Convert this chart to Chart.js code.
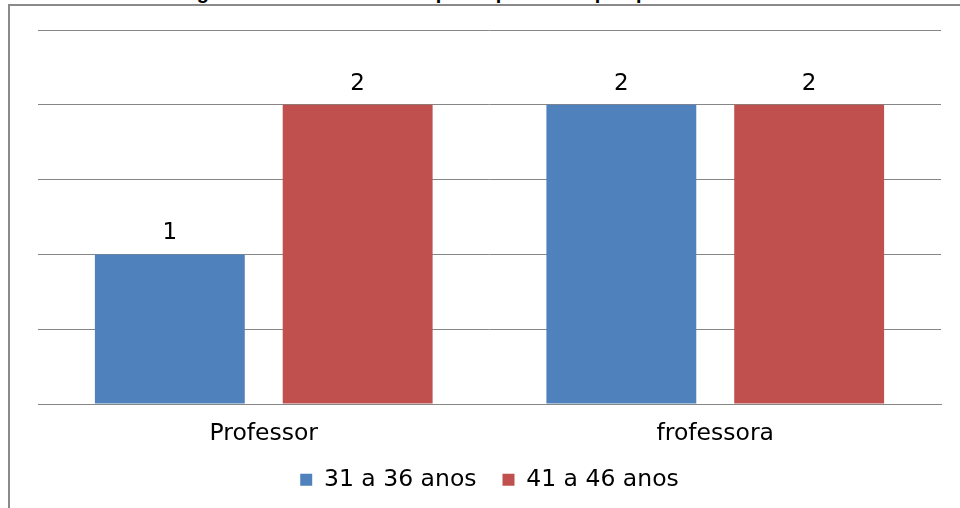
<!DOCTYPE html>
<html>
<head>
<meta charset="utf-8">
<script src="https://cdn.jsdelivr.net/npm/chart.js@4.4.1/dist/chart.umd.min.js"></script>
<style>
  html, body { margin: 0; padding: 0; background: #fff; overflow: hidden; }
  #wrap { position: relative; width: 960px; height: 508px; overflow: hidden; }
  #chart { position: absolute; left: 0; top: 0; }
  #frame { position: absolute; left: 8px; top: 4px; width: 1000px; height: 600px;
           border: 2px solid #8a8a8a; box-sizing: border-box; pointer-events: none; }
  #title { position: absolute; left: 179px; top: -19px; white-space: nowrap;
           font: bold 20px "Liberation Sans", Arial, sans-serif; color: #000; }
</style>
</head>
<body>
<div id="wrap">
  <div id="title">Figura 1 – Faixa etária dos participantes da pesquisa</div>
  <canvas id="chart" width="960" height="508"></canvas>
  <div id="frame"></div>
</div>
<script>
// Categories, series and value scale
const categories = ['Professor', 'frofessora'];
const seriesNames = ['31 a 36 anos', '41 a 46 anos'];
const age31to36 = [1, 2];
const age41to46 = [2, 2];
const yTicks = [0, 0.5, 1, 1.5, 2, 2.5];

const FONT = '"DejaVu Sans", sans-serif';
const FONT_SIZE = 23.5;
const GRID = '#868686';

// Writes each bar's value just above it
const valueLabels = {
  id: 'valueLabels',
  afterDatasetsDraw(chart) {
    const ctx = chart.ctx;
    ctx.save();
    ctx.font = '23px ' + FONT;
    ctx.fillStyle = '#000';
    ctx.textAlign = 'center';
    ctx.textBaseline = 'middle';
    chart.data.datasets.forEach((ds, i) => {
      chart.getDatasetMeta(i).data.forEach((bar, j) => {
        ctx.fillText(String(ds.data[j]), bar.x, bar.y - 21);
      });
    });
    ctx.restore();
  }
};

// The category axis is kept short so the legend sits close under it;
// give its labels room below the axis box so they are not clipped.
const roomForAxisLabels = {
  id: 'roomForAxisLabels',
  afterLayout(chart) {
    chart.scales.x.bottom = chart.scales.x.top + 56;
  }
};

new Chart(document.getElementById('chart'), {
  type: 'bar',
  data: {
    labels: categories,
    datasets: [
      { label: seriesNames[0], data: age31to36, backgroundColor: '#4F81BD' },
      { label: seriesNames[1], data: age41to46, backgroundColor: '#C0504D' }
    ]
  },
  options: {
    responsive: false,
    animation: false,
    devicePixelRatio: 1,
    categoryPercentage: 0.832,
    barPercentage: 0.798,
    layout: { padding: { left: 38, right: 19, top: 30, bottom: 6.5 } },
    plugins: {
      legend: {
        position: 'bottom',
        labels: {
          font: { family: FONT, size: FONT_SIZE },
          color: '#000',
          boxWidth: 12,
          boxHeight: 12,
          padding: 26
        }
      },
      tooltip: { enabled: false }
    },
    scales: {
      x: {
        grid: { display: false },
        border: { display: true, color: GRID, width: 1 },
        ticks: { font: { family: FONT, size: FONT_SIZE }, color: '#000', padding: 8 },
        afterFit(s) { s.height = 38; }
      },
      y: {
        min: yTicks[0],
        max: yTicks[yTicks.length - 1],
        afterBuildTicks(s) { s.ticks = yTicks.map(v => ({ value: v })); },
        ticks: { display: false },
        grid: { color: GRID, lineWidth: 1, drawTicks: false },
        border: { display: false },
        afterFit(s) { s.width = 0; }
      }
    }
  },
  plugins: [valueLabels, roomForAxisLabels]
});
</script>
</body>
</html>
